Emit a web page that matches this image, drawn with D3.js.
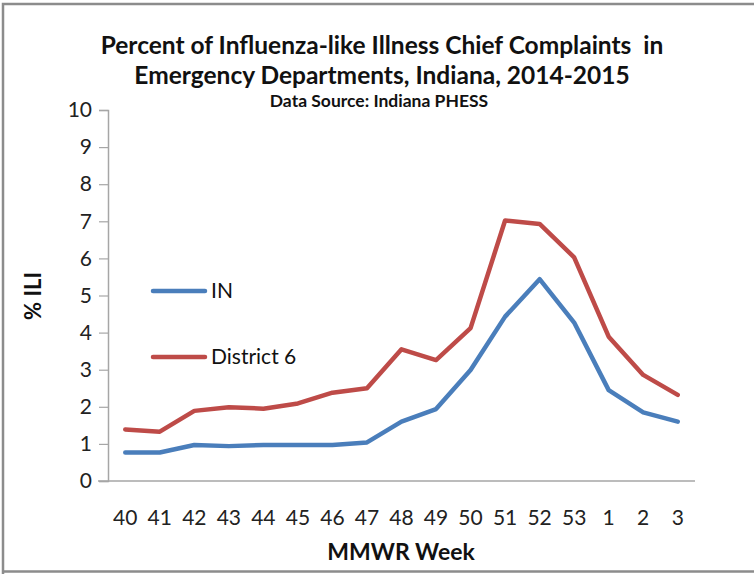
<!DOCTYPE html>
<html>
<head>
<meta charset="utf-8">
<script src="https://cdn.jsdelivr.net/npm/d3@7"></script>
<style>
html,body{margin:0;padding:0;background:#fff;}
svg{display:block;font-family:Lato, "Open Sans", sans-serif;}
</style>
</head>
<body>
<svg id="chart" width="754" height="574"></svg>
<script>
const weeks = ["40","41","42","43","44","45","46","47","48","49","50","51","52","53","1","2","3"];
const seriesIN = [0.77,0.77,0.97,0.94,0.97,0.97,0.97,1.04,1.6,1.94,2.99,4.43,5.44,4.27,2.45,1.85,1.6];
const seriesD6 = [1.39,1.33,1.89,1.99,1.95,2.09,2.38,2.5,3.55,3.26,4.12,7.02,6.93,6.03,3.89,2.86,2.32];
const yTicks = [0,1,2,3,4,5,6,7,8,9,10];
const seriesNames = ["IN","District 6"];
const seriesColors = ["#4a7ebb","#be4b48"];

const svg = d3.select("#chart");
const m = {left:108, right:695, top:110, bottom:481};

// border
svg.append("path").attr("d","M3,574 L3,4 L754,4 M3,571.5 L754,571.5")
  .attr("fill","none").attr("stroke","#8c8c8c").attr("stroke-width",2.5);

const x = d3.scaleBand().domain(weeks).range([m.left,m.right]);
const y = d3.scaleLinear().domain([0,10]).range([m.bottom,m.top]);

// y axis
const yAxis = svg.append("g").attr("transform",`translate(${m.left},0)`)
  .call(d3.axisLeft(y).tickValues(yTicks).tickSize(9).tickPadding(7).tickFormat(d3.format("d")));
yAxis.select(".domain").attr("stroke","#a6a6a6").attr("stroke-width",1.5);
yAxis.selectAll(".tick line").attr("stroke","#a6a6a6").attr("stroke-width",1.2);
yAxis.selectAll("text").attr("font-size",21).attr("fill","#222").attr("font-family","Lato, sans-serif");

// x axis
const xAxis = svg.append("g").attr("transform",`translate(0,${m.bottom})`)
  .call(d3.axisBottom(x).tickSize(0).tickPadding(29));
xAxis.select(".domain").attr("stroke","#a6a6a6").attr("stroke-width",1.5).attr("d",`M${m.left-10},0H${m.right}`);
xAxis.selectAll("text").attr("font-size",21).attr("fill","#222").attr("font-family","Lato, sans-serif");

const line = d3.line().x((d,i)=>x(weeks[i])+x.bandwidth()/2).y(d=>y(d));
[seriesIN, seriesD6].forEach((s,i)=>{
  svg.append("path").datum(s).attr("d",line).attr("fill","none")
    .attr("stroke",seriesColors[i]).attr("stroke-width",4.5)
    .attr("stroke-linejoin","round").attr("stroke-linecap","round");
});

// legend
const legY = [291,357];
seriesNames.forEach((n,i)=>{
  svg.append("line").attr("x1",153).attr("x2",205).attr("y1",legY[i]).attr("y2",legY[i])
    .attr("stroke",seriesColors[i]).attr("stroke-width",4.5).attr("stroke-linecap","round");
  svg.append("text").attr("x",211).attr("y",legY[i]).attr("dy","0.35em")
    .attr("font-size",21).attr("fill","#111").text(n);
});

// titles
svg.append("text").attr("x",382).attr("y",54).attr("text-anchor","middle")
  .attr("font-size",24.5).attr("font-weight","bold").attr("fill","#111")
  .text("Percent of Influenza-like Illness Chief Complaints  in").style("white-space","pre");
svg.append("text").attr("x",382).attr("y",84).attr("text-anchor","middle")
  .attr("font-size",24.5).attr("font-weight","bold").attr("fill","#111")
  .text("Emergency Departments, Indiana, 2014-2015");
svg.append("text").attr("x",379).attr("y",107).attr("text-anchor","middle")
  .attr("font-size",17.5).attr("font-weight","bold").attr("fill","#111")
  .text("Data Source: Indiana PHESS");

svg.append("text").attr("transform","translate(41,296) rotate(-90)").attr("text-anchor","middle")
  .attr("font-size",22).attr("font-weight","bold").attr("fill","#111").text("% ILI");
svg.append("text").attr("x",401).attr("y",560).attr("text-anchor","middle")
  .attr("font-size",23).attr("font-weight","bold").attr("fill","#111").text("MMWR Week");
</script>
</body>
</html>
